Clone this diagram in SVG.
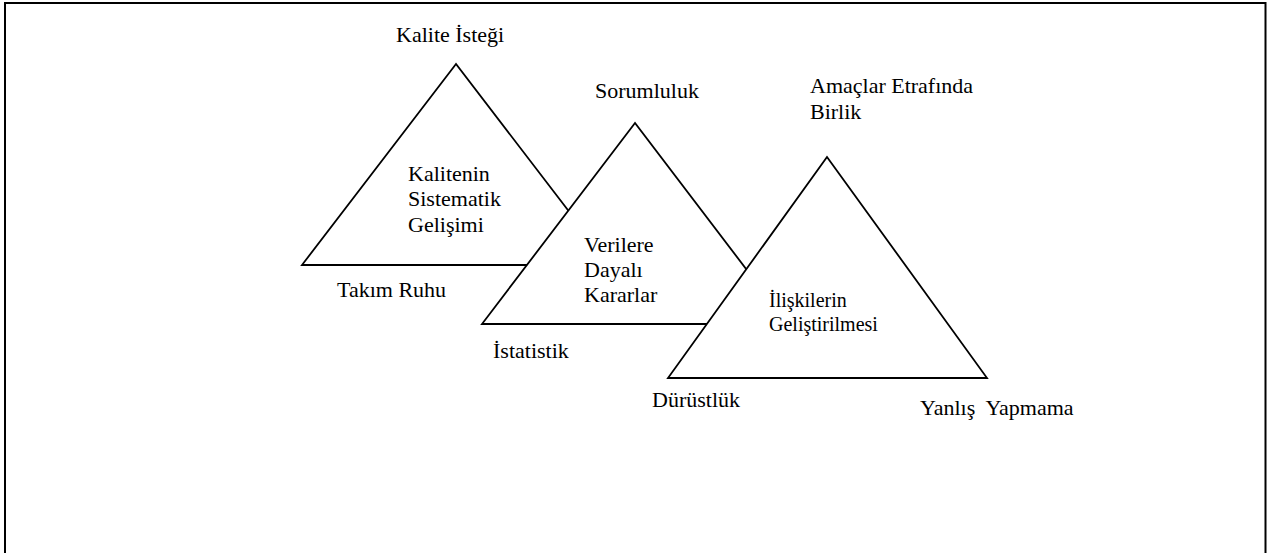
<svg xmlns="http://www.w3.org/2000/svg" width="1281" height="553" viewBox="0 0 1281 553">
<style>
.tri{fill:#fff;stroke:#000;stroke-width:1.8;stroke-linejoin:miter}
.t{font-family:"Liberation Serif","Times New Roman",serif;font-size:22px;fill:#000;white-space:pre}
.s{font-size:20px}
</style>
<rect x="5" y="3" width="1260.5" height="565" fill="#fff" stroke="#000" stroke-width="2"/>
<g id="tri1">
<polygon class="tri" points="456,64 302,265 610,265"/>
<text class="t" x="408" y="181">Kalitenin</text>
<text class="t" x="408" y="206">Sistematik</text>
<text class="t" x="408" y="232">Gelişimi</text>
</g>
<g id="tri2">
<polygon class="tri" points="635,123 482,324 788,324"/>
<text class="t" x="584" y="252">Verilere</text>
<text class="t" x="584" y="277">Dayalı</text>
<text class="t" x="584" y="302">Kararlar</text>
</g>
<g id="tri3">
<polygon class="tri" points="827,157 668,378 987,378"/>
<text class="t s" x="769" y="307">İlişkilerin</text>
<text class="t s" x="769" y="331">Geliştirilmesi</text>
</g>
<g id="labels">
<text class="t" x="396" y="42">Kalite İsteği</text>
<text class="t" x="337" y="297">Takım Ruhu</text>
<text class="t" x="595" y="98">Sorumluluk</text>
<text class="t" x="493" y="358">İstatistik</text>
<text class="t" x="810" y="93">Amaçlar Etrafında</text>
<text class="t" x="810" y="119">Birlik</text>
<text class="t" x="652" y="407">Dürüstlük</text>
<text class="t" x="920" y="415">Yanlış  Yapmama</text>
</g>
<g id="connectors"></g>
</svg>
